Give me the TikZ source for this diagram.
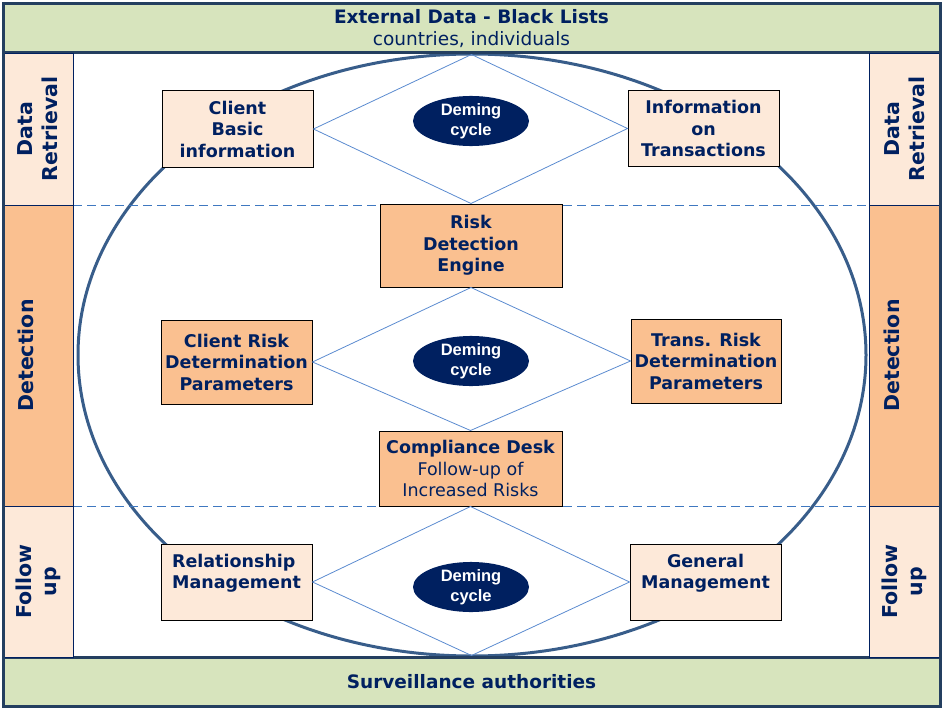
\documentclass[tikz,border=0pt]{standalone}
\usepackage{fontspec}
\setmainfont{DejaVu Sans}
\newfontfamily\demingfont{Liberation Sans}
\usetikzlibrary{shapes.geometric}

\definecolor{navytext}{HTML}{002060}
\definecolor{framecol}{HTML}{243F60}
\definecolor{ovalcol}{HTML}{385D8A}
\definecolor{cyclecol}{HTML}{5B8BD0}
\definecolor{sepcol}{HTML}{3F78C0}
\definecolor{bandgreen}{HTML}{D7E4BD}
\definecolor{paleorange}{HTML}{FDE9D9}
\definecolor{deeporange}{HTML}{FAC090}

\tikzset{
	band/.style={draw=framecol, line width=3pt, fill=bandgreen, text=navytext, align=center, minimum width=937pt, minimum height=49pt, inner sep=0pt, font=\fontsize{18.5}{22}\selectfont},
	sidecell/.style={draw=navytext, line width=0.8pt, rotate=90, text=navytext, align=center, inner sep=0pt, minimum height=70pt, font=\fontsize{20.5}{25}\selectfont\bfseries},
	lightbox/.style={draw=black, line width=1pt, fill=paleorange, text=navytext, align=center, inner sep=2pt, minimum width=151pt, minimum height=76pt, font=\fontsize{17.5}{21.5}\selectfont\bfseries},
	darkbox/.style={lightbox, fill=deeporange},
	deming/.style={ellipse, fill=navytext, text=white, align=center, inner sep=0pt, minimum width=116pt, minimum height=48pt, font=\demingfont\fontsize{16.5}{20}\selectfont\bfseries},
	cycleline/.style={draw=cyclecol, line width=0.8pt},
	sepline/.style={draw=sepcol, line width=1pt, dash pattern=on 9pt off 5pt},
}

\begin{document}
\begin{tikzpicture}[x=1pt,y=-1pt]
	\useasboundingbox (0,0) rectangle (943,709);
	\draw[ovalcol, line width=3pt] (472,355) ellipse [x radius=394pt, y radius=301pt];
	\draw[sepline] (73,205) -- (869,205);
	\draw[sepline] (73,506) -- (869,506);

	\node[band] (ext) at (471.5,28.5) {\textbf{External Data - Black Lists}\\countries, individuals};
	\node[band] (surv) at (471.5,681.5) {\textbf{Surveillance authorities}};

	\node[sidecell, fill=paleorange, minimum width=152pt] (retl) at (38,129) {Data\\Retrieval};
	\node[sidecell, fill=deeporange, minimum width=301pt] (detl) at (38,355.5) {Detection\\~};
	\node[sidecell, fill=paleorange, minimum width=151pt] (folll) at (38,581.5) {Follow\\up};
	\node[sidecell, fill=paleorange, minimum width=152pt, minimum height=71pt] (retr) at (904.5,129) {Data\\Retrieval};
	\node[sidecell, fill=deeporange, minimum width=301pt, minimum height=71pt] (detr) at (904.5,355.5) {Detection\\~};
	\node[sidecell, fill=paleorange, minimum width=151pt, minimum height=71pt] (follr) at (904.5,581.5) {Follow\\up};

	\node[lightbox] (cbi) at (237.5,129) {Client\\Basic\\information};
	\node[lightbox] (iot) at (703.5,128.5) {Information\\on\\Transactions};
	\node[darkbox, minimum width=182pt, minimum height=83pt] (rde) at (471,245.5) {Risk\\Detection\\Engine};
	\node[darkbox, minimum height=84pt] (crp) at (236.5,362) {Client Risk\\Determination\\Parameters};
	\node[darkbox, minimum width=150pt, minimum height=84pt] (trp) at (706,361) {Trans. Risk\\Determination\\Parameters};
	\node[darkbox, minimum width=183pt, minimum height=75pt] (cd) at (470.5,468.5) {Compliance Desk\\{\mdseries Follow-up of}\\{\mdseries Increased Risks}};
	\node[lightbox, align=left] (rm) at (236.5,582) {Relationship\\Management\\~};
	\node[lightbox] (gm) at (705.5,582) {General\\Management\\~};

	\draw[cycleline] (ext.south) -- (cbi.east) -- (rde.north) -- (iot.west) -- cycle;
	\draw[cycleline] (rde.south) -- (crp.east) -- (cd.north) -- (trp.west) -- cycle;
	\draw[cycleline] (cd.south) -- (rm.east) -- (surv.north) -- (gm.west) -- cycle;

	\node[deming] (dem1) at (471,121) {Deming\\cycle};
	\node[deming] (dem2) at (471,361) {Deming\\cycle};
	\node[deming] (dem3) at (471,587) {Deming\\cycle};

	\draw[framecol, line width=3pt] (3,4) rectangle (940,706);
\end{tikzpicture}
\end{document}
